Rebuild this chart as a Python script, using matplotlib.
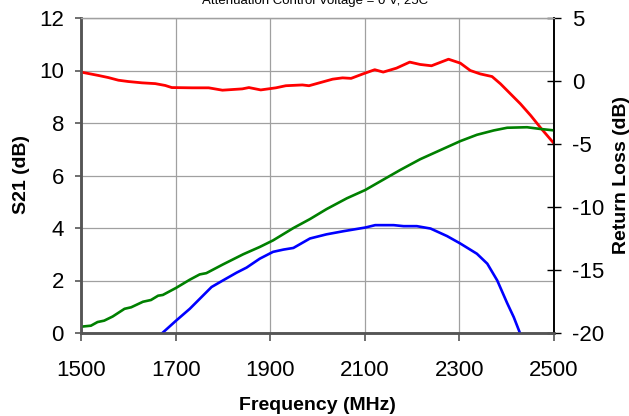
import numpy as np
import matplotlib
matplotlib.use("Agg")
import matplotlib.pyplot as plt

plt.rcParams['font.family'] = ['Liberation Sans', 'DejaVu Sans']
plt.rcParams['axes.unicode_minus'] = False

# S21 gain, left axis (dB)
s21_freq = [1500, 1537, 1558, 1579, 1600, 1629, 1657, 1678, 1692, 1735, 1770,
            1799, 1841, 1855, 1880, 1912, 1933, 1968, 1982, 2018, 2032, 2053,
            2071, 2096, 2121, 2139, 2167, 2195, 2217, 2241, 2277, 2302, 2323,
            2344, 2369, 2387, 2408, 2429, 2451, 2472, 2500]
s21_db = [9.94, 9.81, 9.73, 9.63, 9.58, 9.53, 9.50, 9.43, 9.35, 9.34, 9.34,
          9.25, 9.30, 9.35, 9.26, 9.34, 9.42, 9.45, 9.42, 9.60, 9.67, 9.72,
          9.70, 9.87, 10.03, 9.94, 10.09, 10.32, 10.23, 10.18, 10.43, 10.28, 10.00,
          9.87, 9.77, 9.49, 9.11, 8.73, 8.28, 7.81, 7.22]

# input return loss (green), right axis (dB)
rl_in_freq = [1500, 1521, 1535, 1549, 1567, 1592, 1606, 1631, 1648, 1663, 1673,
              1701, 1730, 1751, 1765, 1800, 1843, 1878, 1906, 1942, 1949, 1984,
              2019, 2062, 2101, 2140, 2175, 2217, 2253, 2302, 2337, 2373, 2401,
              2443, 2472, 2500]
rl_in_db = [-19.50, -19.42, -19.13, -19.02, -18.69, -18.08, -17.96, -17.52, -17.38,
            -17.04, -16.98, -16.42, -15.77, -15.35, -15.25, -14.56, -13.75, -13.17,
            -12.65, -11.83, -11.67, -10.96, -10.17, -9.31, -8.65, -7.81, -7.06,
            -6.21, -5.60, -4.77, -4.27, -3.92, -3.71, -3.67, -3.81, -3.92]

# output return loss (blue), right axis (dB)
rl_out_freq = [1672, 1701, 1730, 1751, 1776, 1800, 1829, 1850, 1878, 1906, 1928,
               1949, 1984, 2019, 2055, 2101, 2122, 2161, 2182, 2210, 2239, 2274,
               2302, 2337, 2359, 2380, 2401, 2415, 2428]
rl_out_db = [-20.00, -19.02, -18.08, -17.29, -16.35, -15.83, -15.21, -14.81, -14.10,
             -13.56, -13.38, -13.25, -12.50, -12.17, -11.92, -11.63, -11.44, -11.44,
             -11.52, -11.52, -11.71, -12.31, -12.90, -13.71, -14.50, -15.83, -17.63,
             -18.75, -20.00]

x_ticks = [1500, 1700, 1900, 2100, 2300, 2500]
left_ticks = [0, 2, 4, 6, 8, 10, 12]
right_ticks = [-20, -15, -10, -5, 0, 5]

W, H = 629, 416
fig = plt.figure(figsize=(W / 100, H / 100), dpi=100)
ax = fig.add_axes([81 / W, 1 - 333 / H, (554 - 81) / W, (333 - 18) / H])
ax2 = ax.twinx()

grid_c = '#a0a0a0'
ax.set_xlim(1500, 2500)
ax.set_ylim(0, 12)
ax.set_xticks(x_ticks)
ax.set_yticks(left_ticks)
ax.grid(True, color=grid_c, lw=0.9)
ax.set_axisbelow(True)

ax.plot(s21_freq, s21_db, color='#ff0000', lw=2.0, zorder=3)

ax2.set_ylim(-20, 5)
ax2.set_yticks(right_ticks)
ax2.plot(rl_in_freq, rl_in_db, color='#008000', lw=1.9)
ax2.plot(rl_out_freq, rl_out_db, color='#0000ff', lw=1.9)

# spines
for a in (ax, ax2):
    a.spines['left'].set_color('#555555')
    a.spines['left'].set_linewidth(1.8)
    a.spines['bottom'].set_color('#555555')
    a.spines['bottom'].set_linewidth(1.8)
    a.spines['top'].set_color(grid_c)
    a.spines['top'].set_linewidth(0.9)
    a.spines['right'].set_color('black')
    a.spines['right'].set_linewidth(1.2)

ax.tick_params(axis='x', direction='out', length=5.5, width=1.2, color='#555555',
               labelsize=16, pad=14)
ax.tick_params(axis='y', direction='out', length=4.3, width=1.2, color='#555555',
               labelsize=16, pad=8)
ax2.tick_params(axis='y', direction='inout', length=10, width=1.0, color='black',
                labelsize=16, pad=8)

fig.text(21 / W, 1 - 175 / H, 'S21 (dB)', rotation=90, ha='center', va='center',
         fontsize=14, fontweight='bold')
fig.text(621 / W, 1 - 175 / H, 'Return Loss (dB)', rotation=90, ha='center',
         va='center', fontsize=14, fontweight='bold')
fig.text(317 / W, 1 - 406 / H, 'Frequency (MHz)', ha='center', va='center',
         fontsize=14, fontweight='bold')
fig.text(315 / W, 1 - 4 / H, 'Attenuation Control Voltage = 0 V, 25C',
         ha='center', va='baseline', fontsize=9.5)

fig.savefig('out.png', dpi=100)
